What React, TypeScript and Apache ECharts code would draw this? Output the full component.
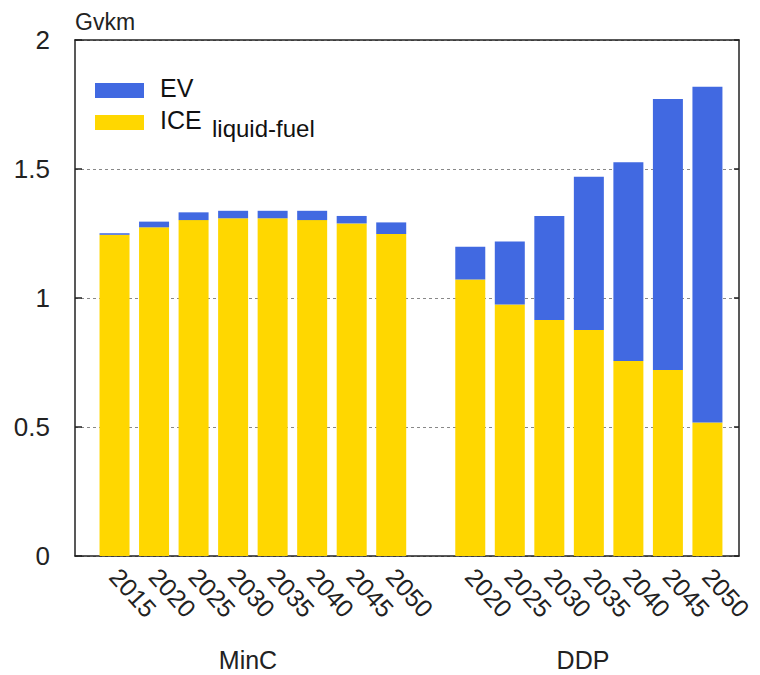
import React, { useEffect, useRef } from "react";
import * as echarts from "echarts";

const minCYears = ["2015", "2020", "2025", "2030", "2035", "2040", "2045", "2050"];
const minCICE = [1.245, 1.274, 1.302, 1.309, 1.309, 1.302, 1.289, 1.248];
const minCEV = [0.006, 0.022, 0.03, 0.029, 0.029, 0.036, 0.029, 0.045];

const ddpYears = ["2020", "2025", "2030", "2035", "2040", "2045", "2050"];
const ddpICE = [1.072, 0.975, 0.915, 0.876, 0.756, 0.721, 0.517];
const ddpEV = [0.127, 0.244, 0.403, 0.594, 0.77, 1.05, 1.302];

const groupNames = ["MinC", "DDP"];
const yTicks = [0, 0.5, 1, 1.5, 2];
const yUnit = "Gvkm";
const seriesNames = ["EV", "ICE"];
const seriesSub = ["", "liquid-fuel"];
const seriesColors = ["#4169E1", "#FFD700"];

const FONT = "'Liberation Sans', Arial, Helvetica, sans-serif";

export default function App() {
  const ref = useRef<HTMLDivElement>(null);
  useEffect(() => {
    if (!ref.current) return;
    const chart = echarts.init(ref.current, undefined, { renderer: "svg" });

    // categories: MinC years, one empty gap slot, DDP years (unique keys)
    const categories = [
      ...minCYears.map((y) => `${groupNames[0]}|${y}`),
      "gap|",
      ...ddpYears.map((y) => `${groupNames[1]}|${y}`),
    ];
    const iceData = [...minCICE, "-", ...ddpICE];
    const evData = [...minCEV, "-", ...ddpEV];

    const yMin = yTicks[0];
    const yMax = yTicks[yTicks.length - 1];

    const legendItems: any[] = [];
    const legendTops = [83, 115];
    [0, 1].forEach((k) => {
      legendItems.push({
        type: "rect",
        shape: { x: 95, y: legendTops[k], width: 49, height: 15 },
        style: { fill: seriesColors[k] },
      });
      legendItems.push({
        type: "text",
        x: 160,
        y: legendTops[k] + 5,
        style: {
          text: seriesNames[k],
          font: `25px ${FONT}`,
          fill: "#111",
          verticalAlign: "middle",
          align: "left",
        },
      });
      if (seriesSub[k]) {
        legendItems.push({
          type: "text",
          x: 212,
          y: legendTops[k] + 13,
          style: {
            text: seriesSub[k],
            font: `24px ${FONT}`,
            fill: "#111",
            verticalAlign: "middle",
            align: "left",
          },
        });
      }
    });

    chart.setOption({
      animation: false,
      grid: [
        // frame grid
        { left: 75, top: 40, right: 21, bottom: 119, containLabel: false },
        // bars grid (category slots)
        { left: 94.76, top: 40, right: 32.8, bottom: 119, containLabel: false },
      ],
      xAxis: [
        {
          type: "value",
          gridIndex: 0,
          min: 0,
          max: 1,
          axisLine: { show: true, onZero: false, lineStyle: { color: "#222", width: 1.5 } },
          axisTick: { show: false },
          axisLabel: { show: false },
          splitLine: { show: false },
        },
        {
          type: "value",
          gridIndex: 0,
          position: "top",
          min: 0,
          max: 1,
          axisLine: { show: true, onZero: false, lineStyle: { color: "#222", width: 1.5 } },
          axisTick: { show: false },
          axisLabel: { show: false },
          splitLine: { show: false },
        },
        {
          type: "category",
          gridIndex: 1,
          data: categories,
          boundaryGap: true,
          axisLine: { show: false },
          axisTick: { show: false },
          splitLine: { show: false },
          axisLabel: {
            interval: 0,
            rotate: -48,
            margin: 16,
            fontSize: 25,
            fontFamily: FONT,
            color: "#222",
            formatter: (v: string) => v.split("|")[1] ?? "",
          },
        },
      ],
      yAxis: [
        {
          type: "value",
          gridIndex: 0,
          min: yMin,
          max: yMax,
          interval: 0.5,
          axisLine: { show: true, onZero: false, lineStyle: { color: "#222", width: 1.5 } },
          axisTick: { show: true, inside: true, length: 7, lineStyle: { color: "#222", width: 1.5 } },
          axisLabel: {
            margin: 25,
            fontSize: 26,
            fontFamily: FONT,
            color: "#222",
            formatter: (v: number) => String(v),
          },
          splitLine: {
            show: true,
            lineStyle: { color: "#888", type: [3, 3], width: 1 },
          },
        },
        {
          type: "value",
          gridIndex: 0,
          position: "right",
          min: yMin,
          max: yMax,
          interval: 0.5,
          axisLine: { show: true, onZero: false, lineStyle: { color: "#222", width: 1.5 } },
          axisTick: { show: true, inside: true, length: 5, lineStyle: { color: "#222", width: 1.5 } },
          axisLabel: { show: false },
          splitLine: { show: false },
        },
        {
          type: "value",
          gridIndex: 1,
          min: yMin,
          max: yMax,
          interval: 0.5,
          show: false,
        },
      ],
      series: [
        {
          name: seriesNames[1],
          type: "bar",
          stack: "total",
          barWidth: 30,
          xAxisIndex: 2,
          yAxisIndex: 2,
          itemStyle: { color: seriesColors[1] },
          data: iceData,
          z: 3,
        },
        {
          name: seriesNames[0],
          type: "bar",
          stack: "total",
          barWidth: 30,
          xAxisIndex: 2,
          yAxisIndex: 2,
          itemStyle: { color: seriesColors[0] },
          data: evData,
          z: 3,
        },
      ],
      graphic: [
        {
          type: "text",
          x: 75,
          y: 22,
          style: {
            text: yUnit,
            font: `23px ${FONT}`,
            fill: "#222",
            verticalAlign: "middle",
            align: "left",
          },
        },
        {
          type: "text",
          x: 248,
          y: 660,
          style: {
            text: groupNames[0],
            font: `25px ${FONT}`,
            fill: "#222",
            verticalAlign: "middle",
            align: "center",
          },
        },
        {
          type: "text",
          x: 583,
          y: 660,
          style: {
            text: groupNames[1],
            font: `25px ${FONT}`,
            fill: "#222",
            verticalAlign: "middle",
            align: "center",
          },
        },
        ...legendItems,
      ],
    });
    return () => chart.dispose();
  }, []);
  return (
    <div
      ref={ref}
      style={{ position: "absolute", left: 0, top: 0, width: 760, height: 675, background: "#fff" }}
    />
  );
}
